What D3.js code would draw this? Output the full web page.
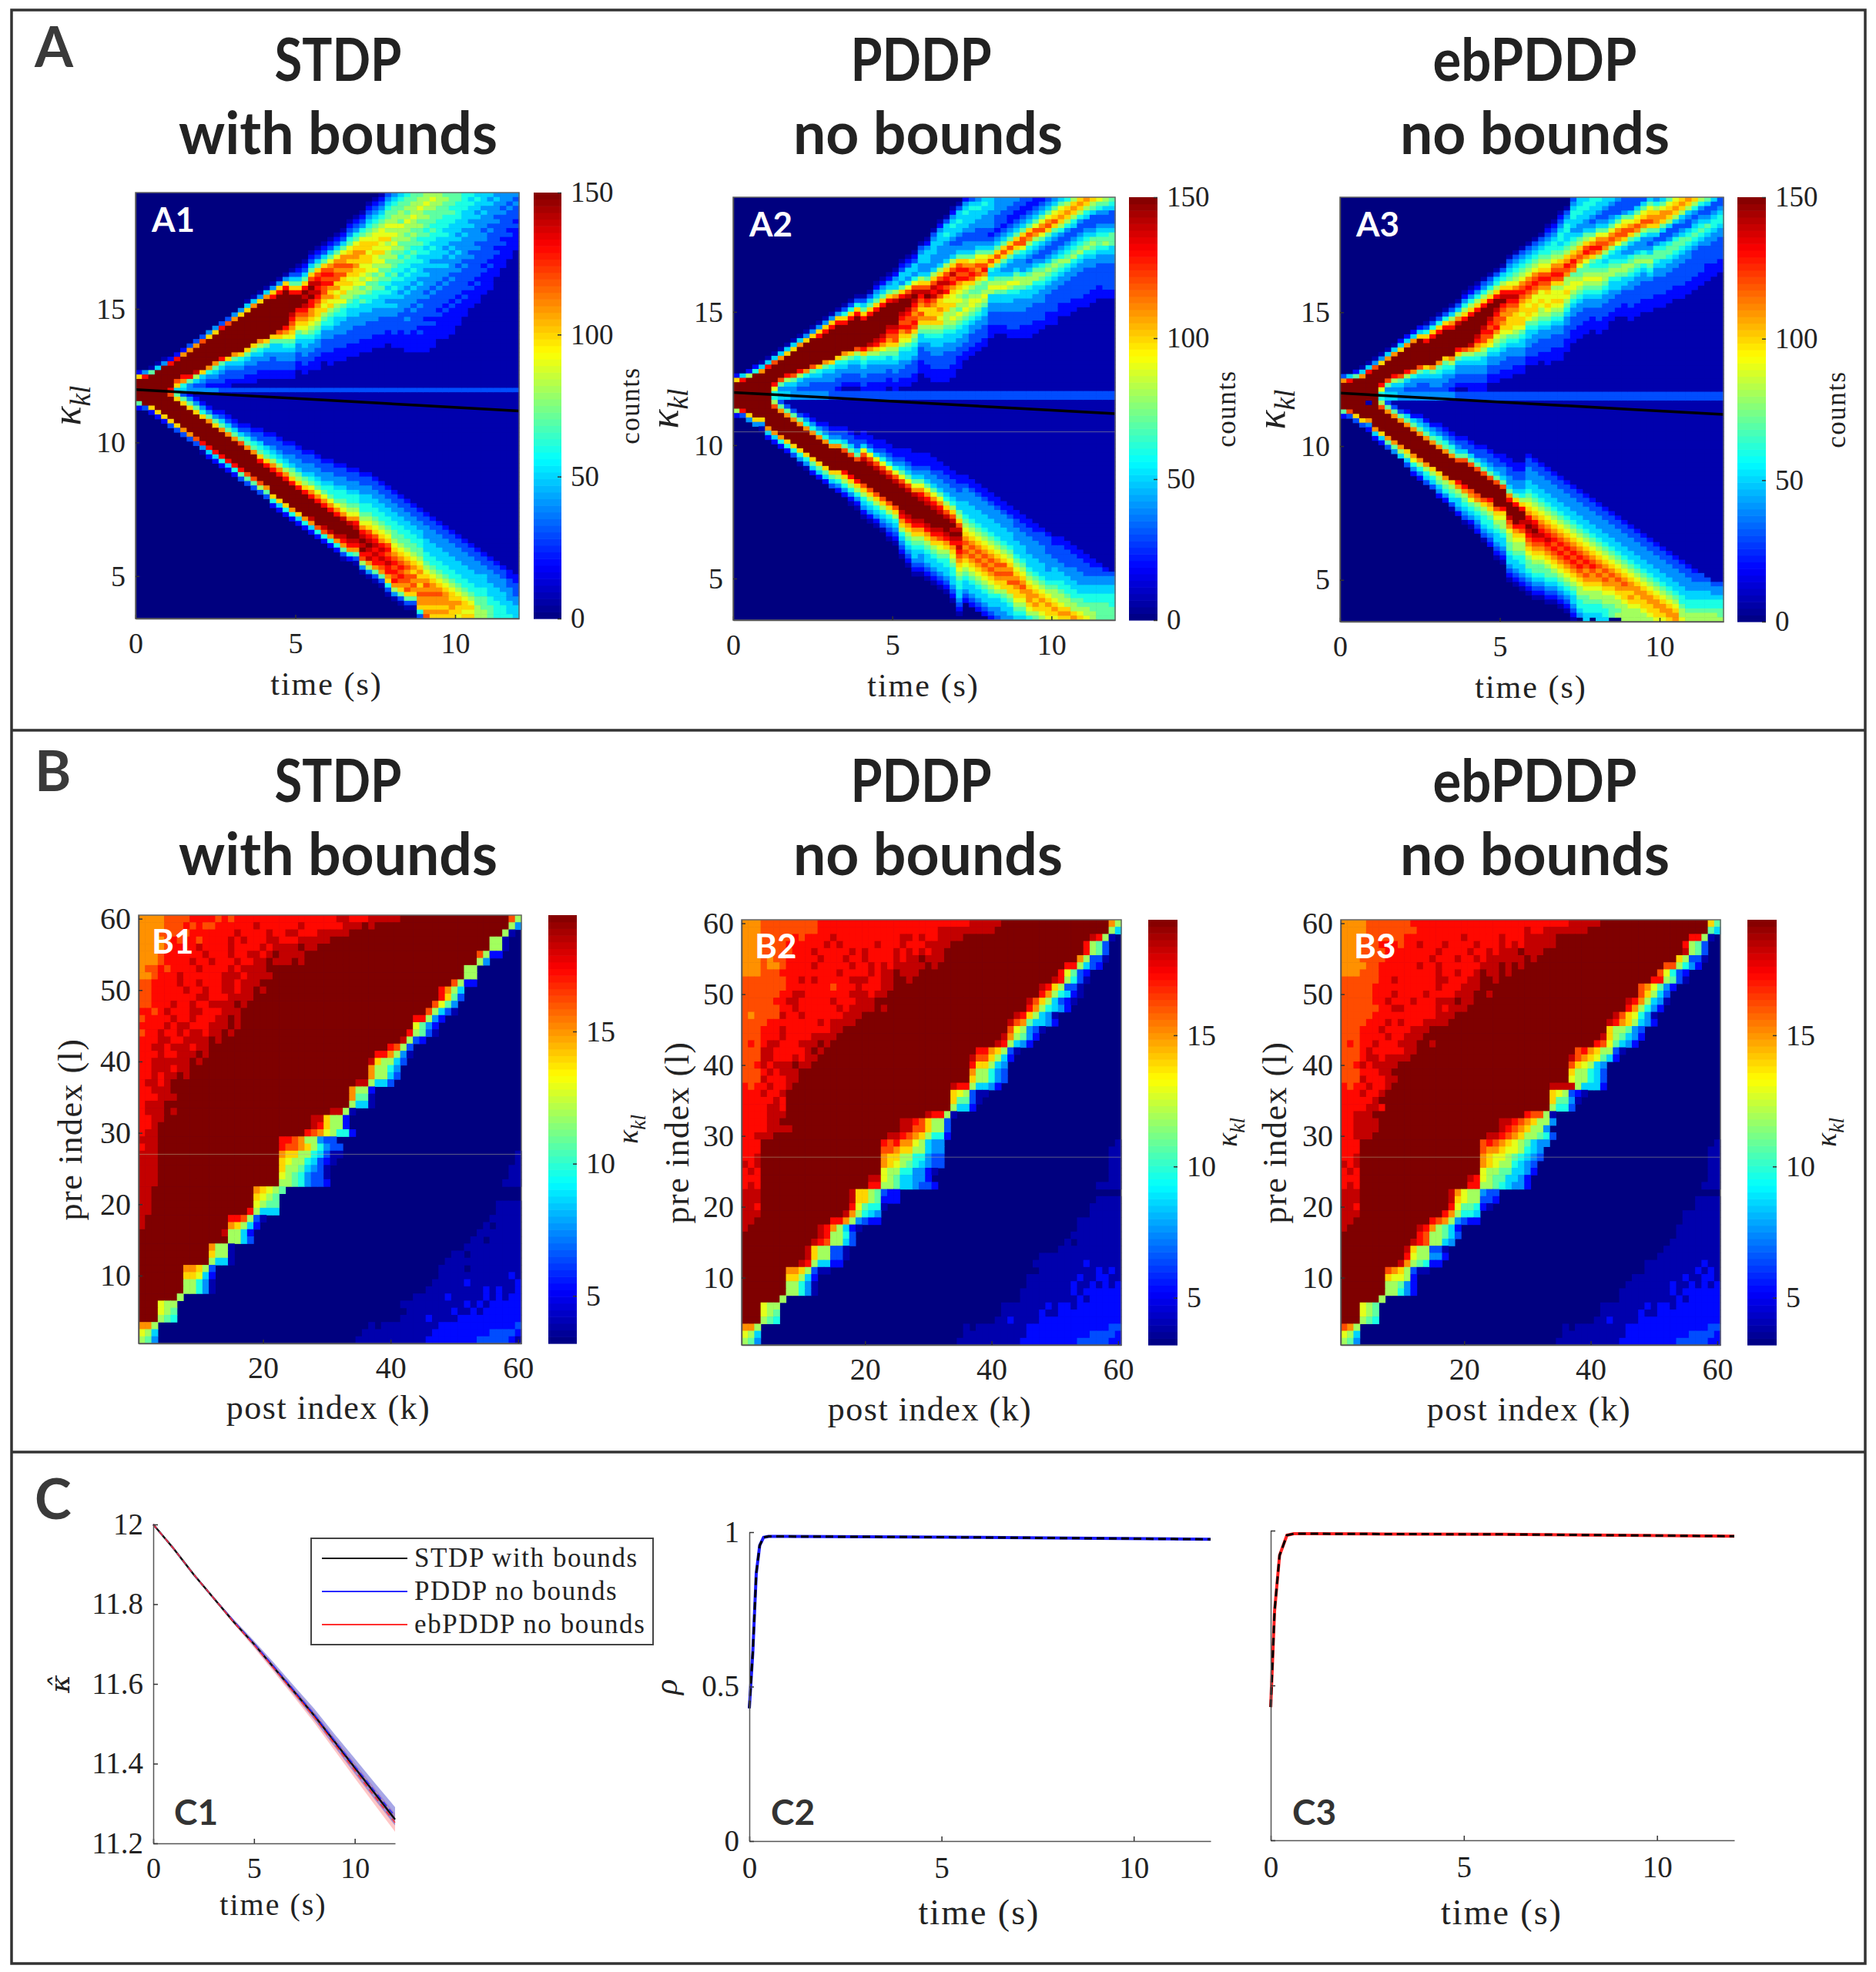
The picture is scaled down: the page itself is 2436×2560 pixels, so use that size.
<!DOCTYPE html>
<html>
<head>
<meta charset="utf-8">
<script src="https://cdnjs.cloudflare.com/ajax/libs/d3/7.8.5/d3.min.js"></script>
<style>
body { margin: 0; background: #fff; }
text { fill: #222; }
.serif { font-family: "Liberation Serif", serif; }
.sans { font-family: Lato, "Open Sans", sans-serif; font-weight: 700; }
</style>
</head>
<body>
<svg id="fig" width="2436" height="2560"></svg>
<script>
// every heat cell is one hex level, 0 = bottom of the colour bar, f = top of it
// A panels: one entry per time column: [row, upper cells, row, lower cells]
var a1Cols = [
[40,"2affff",46,"f72"],[40,"4dffff",46,"ff3"],[39,"17fffff",46,"ffa2"],[38,"15ffffff",46,"fffa2"],[37,"14fffffff",46,"ffffa2"],
[37,"2dfffffd",45,"cfffffa3"],[36,"2dffffca",45,"7afffffa3"],[35,"2bffffdb6",45,"37afffffb3"],[34,"3bfffffd74",45,"247afffffb3"],[33,"3bfffffe853",46,"247afffffc3"],
[32,"3cffffffa543",46,"1246afffffd41"],[31,"4affffffb6432",47,"1247bfffffd52"],[30,"4affffffb75432",48,"1247afffffd52"],[29,"3dffffffd754332",48,"12357bfffffd62"],[28,"3cfffffffa543322",49,"12357bfffffd52"],
[27,"4bfffffffb754332",50,"12357bfffffd62"],[26,"4affffffffa654332",51,"12357cfffffd73"],[24,"15affffffffa7543322",51,"123467bfffffc73"],[23,"15bffffffffa75443322",52,"123467bfffffc73"],[22,"14affffffffb86543322",52,"1233567adffffc83"],
[21,"15bfffffffffa75443322",53,"1233567adffffb73"],[20,"14adffffffffa755433322",53,"12334568bdfffffa62"],[19,"14adffffffffca755443322",54,"12334568bdfffffa52"],[18,"14adffffffffdb9765443322",55,"12334568bdfffffa62"],[17,"1357adffffedcba9765443322",55,"123344578adfffffb62"],
[16,"12357adfffdcba9765443322",56,"123344578adfffffa52"],[15,"12357adfefedcba98655443322",57,"123344578adfffffb62"],[13,"12357acefefddbba98765443322",57,"1233445679bdffffeb52"],[12,"12357acdededcbaa987654433222",58,"1233445679bdfffffc62"],[11,"12357acdcdccba9a87654433322",59,"1233445679bdffffec62"],
[10,"123579bcdcdbab9a8766544333222",59,"12334456679bdffffeb62"],[9,"123579bcbccab9a98765544333222",60,"12334456679bdffffeb62"],[8,"123579bbcbcaa9a897665444333222",60,"123344566789befffedb731"],[6,"1234679abacba9a9887655444333222",61,"123344566789befffedb62"],[5,"1234679abbabaa998876655443333222",61,"123344566789bdeffedb731"],
[4,"1234679aabaa9a989786755444333222",62,"1233445566789bdefefdc841"],[2,"123456789aa9aa99897876655443333222",62,"1233445566789acdefedeb841"],[1,"1234567899a9a998978776655444333222",63,"1233445566789acdededdb731"],[0,"1234567899a99a898787676555443333222",64,"1233445566789abdededcb731"],[-1,"13456778989a89887876765654544333222",65,"1233445566789acdcdeddba631"],
[0,"45677889898987877676565545443333222",66,"12334455667789abcdcdcdb841"],[0,"56778879888787676656554544433332222",67,"12334455667789abcdcdcba731"],[0,"677878988787767665655454443343332222",68,"12334455667789abcbccbca731"],[0,"778889887877676656554544434333322222",69,"12334455667789abacbcba731"],[0,"788988787767665655545444343333232222",70,"12334455667789abababcbba631"],
[0,"889878776766565554544434333323222222",71,"123344455566789abcbcbbabc"],[0,"89887776766565545444434333332322222",72,"123344455566789abbcbbaba"],[0,"888777666655555454443433332322222",73,"123344455566789abcbbaba"],[0,"787776665655454454434333323222222",74,"123344455566789abbbaba"],[0,"77767665555454544434333323222222",75,"123344455566789aabbaa"],
[0,"776666555454454434333332322222",76,"123344455566789abaa9"],[0,"66665555454444434333332 32222",77,"123344455566789aa9a"],[0,"656555454444434333332 32222",78,"123344455566789a9a"],[0,"5655454444434333333232222",79,"12334445556677888"],[0,"55545444344333332322222",80,"1233445556677788"],
[0,"5454444343333332322222",81,"123344455566777"],[0,"4544434333332322222",82,"12334445556666"],[0,"44434333332322222",83,"1233444555666"],[0,"443433332322222",84,"122334445556"],[0,"4343332322222",85,"12233344555"]
];
var a1Center = "000000554444433333333333333333333333333333333333333333333333";

var a2Cols = [
[40,"2affff",46,"ff82"],[40,"5dffff",46,"ffd3"],[39,"28fffff",46,"fffa4"],[38,"26ffffff",46,"ffffa4"],[37,"15bfffffff",47,"fffa41"],
[36,"15dfffffff",46,"ffffffb52"],[35,"15cffffd9",46,"8cfffffb52"],[34,"15bffffc74",46,"37bfffffb62"],[33,"15affffd854",46,"137bfffffa62"],[32,"15afffffc754",47,"137bfffffa63"],
[31,"15bfffffd8543",48,"137bfffffa641"],[30,"14affffffb6443",48,"1246bfffffa641"],[29,"14affffffc75433",49,"1246bfffffa752"],[28,"14adffffffa65433",50,"1246bfffffa752"],[27,"14adffffffb754433",50,"12346bfffffa752"],
[26,"14adfffffffa654433",51,"12346bfffffa753"],[25,"14adfffffffa6544332",51,"12346bfffffa8642"],[24,"136adffffffb8654332",51,"123357cffffda8642"],[23,"136adfffffffa7544332",52,"123357cffffda86421"],[22,"136adfffffffc86544332",53,"123357cffffda86421"],
[22,"1357adffffffda765443322",52,"122359cefffffca865421"],[21,"1357adffffffeb865443322",53,"122359cefffffca865421"],[19,"12457adffffffeda865443322",54,"122359cefffffca865421"],[18,"12457adffffffedb9765443322",54,"1223469cefffffca865431"],[17,"12457adfffffedcba875543322",55,"1223469cefffffca8654321"],
[16,"124558befffffedcca8765443322",55,"11223469cefffffca8654321"],[14,"1235547adfffedcdba98655443322",55,"112234579cefffffedba8654321"],[13,"12355469ceffedccdca97655433322",55,"1122234579cefffffedba87654321"],[12,"12355469cefedcbcdca87655433322",56,"1122234579befffffedba876554321"],[10,"134554458acedcbacba87554333222",56,"112223457 9bdeffffedba87654 4321"],
[9,"1245554457acefdcaaba87654433 3222",56,"11222344579bdeffffedba876554321"],[7,"13455544458acedecbaaba876554433 3222",57,"11222344579bdeffffedba876554321"],[5,"124555444458acedecaaba9a87655443 33222",58,"11223344579bdefffedca9876554321"],[4,"13556544445 8acdecda9aa8887655443333222",59,"11223344568acefffedba87665 54321"],[2,"1245655434458acecdba99a889876554433 3222",60,"11223344568acefefedba98766554321"],
[1,"1355655433457acdcdba989879876554433222",61,"112233445578acefededcba98766554321"],[0,"24565554334457ab"+"dcda"+"987889"+"87655443322",62,"1223444555678"+"9abcbcba987655432"],[0,"3565554433445 79b"+"cdca"+"87899"+"87654433322",63,"1223444555678"+"9abcbcba987655432"],[0,"456554433345 79a"+"cbca"+"877898"+"7654433322",64,"1223444555678"+"9abcbcba987655432"],[0,"5655444333457 9a"+"cdb9"+"77898"+"7554433322",65,"1223444555678"+"9abcbcba987655432"],
[0,"5554444323457aca65"+"68985"+"5443332 22",66,"1223444555678"+"9abcbcba987655432"],[0,"444433323457aca7557897554433322",67,"1223444555678 9abcbcba98655 4432"],[0,"4443332345 7aca75457897 5544333 22",68,"1223444555678 9acbcbaa87655 443"],[0,"4433223457aca7544579865544333322",69,"1223444555678 9abcbcaa87655 44"],[0,"43322345 7aca754457897 6544 4333322",70,"122334445556789abcbaa987655"],
[0,"332234 57acc96544468875544 433 3222",71,"122334445556789abcba987655"],[0,"3223457acb8654345 7886554433 33222",72,"122334444555678 9abbba9865"],[0,"2234579cb8654345788 65544333 3222",73,"122334444555678 9ababa876"],[0,"234579bc97 5433467876 544433 3322",74,"123334444555678 9abaa98"],[0,"34579bca754334578765443333222",75,"123333444455678 9abaa98"],
[0,"4579aca754334578765443333 3222",76,"1223334455567889aba9"],[0,"579aba864334568765443333 222",76,"1223333445566788 9aba"],[0,"68aba86433456786544333 33222",77,"1223333445566788aba"],[0,"8aba865334567865443333 3222",78,"1223334445566788ab"],[0,"aba8643345678654433333322",79,"1223334445567789a"],
[0,"ba865334567865443333 33222",80,"1223334455667889"],[0,"a8753334578 76544333 33222",81,"122334455667788"],[0,"976433456776544333 33222",82,"12334455667777"],[0,"87543345678654433 3333 22",83,"1234455667777"],[0,"76533345777554433333 322",84,"134455666777"]
];
var a2Center = "000000655444444333333333333333333333333333333333333333333333";

var a3Cols = [
[40,"3bffff",46,"ff72"],[40,"5dffff",46,"ffc3"],[39,"27fffff",46,"fffa3"],[38,"15bfffff",46,"ffffa3"],[37,"15dffffff",47,"fffb42"],
[36,"14cffffffff",46,"ffffffb52"],[35,"14affffd9",46,"8cfffffa52"],[34,"15bffffc74",46,"37bfffffb73"],[33,"15bffffd854",46,"137bfffffb74"],[32,"25afffffc754",47,"137bfffffb85"],
[31,"25bfffffd8543",47,"1257bfffffa853"],[30,"25bffffffb6443",48,"1257bfffffb9642"],[29,"25affffffc75433",48,"12457bfffffb8642"],[28,"136adfffffa65433",49,"12457bfffffb8653"],[27,"136adffffffb754433",50,"12457bfffffa8653"],
[26,"136adffffffb76544332",50,"123467bfffffa87542"],[25,"136adffffffa76544332",51,"123467bfffffb87642"],[24,"1358bdffffffb8654332",52,"123467bfffffa876531"],[23,"1358befffffda7544332",53,"123457cffffdb875542"],[21,"12468adffffffc86544332",53,"123357cfffffdb8765431"],
[20,"12468adffffffeb865443322",54,"123357cfffffcb9765421"],[19,"12468adfffffedba765443322",55,"123357cfffffcb8765432"],[18,"13468adffffedcca875544 3322",55,"1233457cfffffca87665431"],[17,"13468adfffedcdca965443322",56,"1233457cffffdba87665432"],[16,"13568adffedccdb98765443322",57,"1233457cfffffca9876554321"],
[15,"13568adefdcbcba98765443322",57,"12234457cffffda9887655 4321"],[13,"1345679adedcbbaaa97654433322",57,"1122334457bdfffecb98877 6554321"],[12,"13456789bdedcbaaa98765443322",58,"1122334457adffffdba9887655 4321"],[11,"13456789bcdcbaa9aa97655443322",58,"112233445 68adffedca98876655 4321"],[10,"13456789bcdcba9aa97655443322",57,"1233444556789ab"+"defedcba9877654321"],
[9,"13456789bcdcb99aa98765443 3322",58,"1233444556789ab"+"defedcba9877654321"],[8,"134567 89acdcb99a9887654433322",59,"1233444556789ab"+"cdedcba9877654321"],[6,"1234566789acdcba99a98765 4433 3222",60,"1233444556789ab"+"cdedcba9877654321"],[5,"1234566789bcdca899a987654433 3222",61,"1233444556789ab"+"cdcdcba987654321"],[3,"123456 65678abcdca899a98765443 33222",62,"1233444556789ab"+"cdcdcba987654321"],
[2,"1345665 5678abdcb889a9876544 33 3222",63,"1233444556789ab"+"cdcdcba987654321"],[0,"3456655 45678abdcb78998765 44333222",64,"1233444556789ab"+"cdcdcba9876554321"],[0,"556655445 78abcb97789876 5443 33222",65,"1233444556789ab"+"cdcdcba98876654"],[0,"5665544578acdb97789876544 33 3222",66,"1233444556789ab"+"cdcbcba98776655"],[0,"665543457 9bdca767898765 4433 222",67,"1233444556789ab"+"cdcbba9887665"],
[0,"65543457 9bcdb86678987654433 3222",68,"1233444556789ab"+"cbcba98876655"],[0,"5543345 79bcb8656788765 4433 3222",69,"1233444556789ab"+"cbcba9887665"],[0,"54 3345 79bcb8656788655443 3322",70,"1233444556789ab"+"cbba988777"],[0,"43335 79bcb96556787655433 322",71,"1233444556789ab"+"cbba98878"],[0,"333479acca754568875543 33222",72,"1233444556789ab"+"cbaa98888"],
[0,"33357 9bca754467876544 33 33222",73,"1233444556789ab"+"baba9888"],[0,"33579acb864457876544 33 33222",74,"1233444556789ab"+"baa9888"],[0,"3579acb864446786544 33 33222",75,"1233444556789ab"+"baa988"],[0,"579abca7543457876 54 33 33222",76,"1233444556789ab"+"baa98"],[0,"468abba75346776544 33 33222",77,"1233444556789ab"+"baa9"],
[0,"579bba7533567755443 33 3222",78,"1233444556789ab"+"ba9"],[0,"79aba8533467765443 33 3222",79,"1233444556789ab"+"ba"],[0,"9aba85334677 65443 33 3222",80,"1233444556789ab"+"b"],[0,"aba85434577654433 3 33222",81,"123344455667889"],[0,"ba854335676544 33 33 3222",82,"12334445566788"],
[0,"a8643456 7654333 33 3222",83,"1233445566788"],[0,"864345676543 33 33 3222",84,"133445566788"],[0,"753345765 44 33 33 2222",85,"13445566788"],[0,"53345665 44 33 33 3222",86,"1344566788"],[0,"3345665 44 33 33 3222",86,"1344566778"]
];
var a3Center = "000000655444444444333333333333333333333333333333333333333333";

// B panels: one entry per pre index from 60 down to 1:
// [cells from the left edge, first post index of the diagonal block, block cells, cells up to the right edge]
var b1Rows = [
["bbbbccccddddcdcddddddddddddddddeedddeeeee",59,"c8",""],["bbbbcccdcdccddddddeddddddeddddddeeefe",59,"84",""],["bbbcccccdddddddeddddeddeedddeeeee",58,"81",""],["bbbbcdcddcddddededddeedddeeeee",56,"881",""],["bbbbcddddeddddeddddedeeeefee",56,"881",""],
["bbbcddddddedddeddeedefeeeef",54,"c822",""],["bbbcddddeddedddeddeefeeefe",54,"84",""],["bccdcddddeddddedeeeeff",52,"88",""],["bbcdddeddddddeeedeeeef",52,"88",""],["ccddddeddedddeedeeef",50,"c822",""],
["ccdddddeddeddeedeefe",48,"db85",""],["ccdddddddeedddeeeef",48,"da73",""],["ccdddeddeddeeeefef",47,"c974",""],["ddcdedddeedddeeef",46,"c8531",""],["cddddeddedddeefe",44,"dd842",""],
["ddddedeedddeeefe",44,"9742",""],["cddeddedeedeefe",43,"d8731",""],["dddeeddeeeefe",42,"e832",""],["ddeedeeedeef",40,"dc83",""],["dddeddeeefe",38,"ddb841",""],
["ddeeeeeefe",37,"ea8853",""],["ddeeedeef",37,"b8864",""],["ddedeefef",37,"b8853",""],["deedeff",35,"ee8553",""],["ddeeef",34,"b882",""],
["dddeeef",34,"b771",""],["deeef",34,"8551",""],["deeefe",31,"ee81",""],["ddee",28,"eea882",""],["ddef",28,"eda882",""],
["deef",27,"dcb98662",""],["eeef",23,"ddcb88433",""],["dee",23,"dccba86433",""],["eee",23,"baa8865311","1"],["eee",23,"a98865321","1"],
["eee",23,"a8875431","11"],["eee",23,"98764331","11"],["eee",23,"88764332","111"],["eef",19,"ba987",""],["eef",19,"a987",""],
["ee",19,"9877","1111"],["eef",18,"d8555","1111"],["ef",15,"ddc831","11111"],["ef",15,"ba852","101111"],["f",14,"e8852","1111111"],
["",15,"8853","11011111"],["",12,"b881","111111111"],["",12,"a881","11011111111"],["",12,"8551","111111111111"],["",8,"bba83","1111011111111"],
["",8,"aa952","1111111111121"],["",8,"88641","11111211111112"],["",8,"88641","111111111212112"],["",7,"8","11111211111212122"],["",4,"988","1111111111212122222"],
["",4,"987","111111121121222222"],["",4,"876","1111211112222222222"],["bb",3,"8","101111111112222222222223"],["9",2,"85","1111111111122222222233332"],["8",2,"74","11111111111222222223333321"]
];

var b2Rows = [
["bbbcccccccccddddddddddddddddddddddddeeeee",59,"b8",""],["bbbcccccccccdddddddddddddddddddeeeeeeeee",59,"85",""],["bbbcccccdcddddeddddddddddeededdeeee",56,"ed81",""],["bbbccccddddddededddddedddedddeeee",55,"d873",""],["bbbcccccdddedddddededdddedededee",55,"d873",""],
["bbbcbccdddddedddeddeddddedeefeee",54,"b8331",""],["bbbcbbcddddedddddeddededeeeeefe",52,"dd8532",""],["bbbcccdddddddddeddddedeefeeef",51,"d9732",""],["cccccccddededddddeeeddeeffe",50,"ed8631",""],["cccccccdddddddcdddedddeef",48,"eda8331",""],
["ccccccddeedddddddeeedeeff",48,"db86521",""],["cccccddeedddddedddeeef",46,"eca85321",""],["ccccccddeddddddedeeeefe",46,"db86542",""],["cbcccceddeddddddeeef",44,"eda8541",""],["ccccddddddddedeeeef",43,"ecb75542",""],
["cccdddedddddddeef",43,"c98431",""],["cccdddeddddeeeef",42,"eb8742",""],["cdcdeedddeeefe",41,"ed8542",""],["ccceedddddefef",38,"ddba831",""],["ccceedddedeef",37,"ecca852",""],
["ccdedeeefeef",37,"daa854",""],["cccdedeeef",37,"b88643",""],["cccedddeef",37,"a88643",""],["dcddeddef",34,"edd85542",""],["dddedde",34,"a98311",""],
["ddddded",34,"a7731",""],["ddddeedf",34,"8552",""],["ddddeeef",30,"edd81",""],["ddddee",26,"eedca883",""],["ddddeeeef",26,"eecca883",""],
["ddeeef",24,"eedcba8662",""],["ddd",23,"dcdbb98544","1"],["ddd",23,"ccbaa88544","11"],["dde",23,"baa8866433","11"],["ede",23,"ba98765433","11"],
["ded",23,"988664421","11"],["ddd",21,"ee98755442","11"],["ded",21,"dd887554332","1111"],["eee",18,"eaa87322",""],["eee",18,"eaa87222","1111"],
["eed",18,"d97661","11111"],["eeef",17,"eb8654","11111"],["ee",15,"ddb84322","1111111"],["ef",13,"edb8521","1111111"],["",13,"ed8863","11111111"],
["",12,"edc8853","101111111"],["",11,"ea88331","1111111111"],["",11,"ea88331","1111111111111"],["",10,"ed85522","11111111211111"],["",8,"bba8311","1111111112121"],
["",8,"aa852","111111112112211"],["",8,"88641","111111121121212"],["",8,"88641","1111111121222222"],["",7,"8","1111111112122222"],["",4,"988","1111111212212222222"],
["",4,"987","1111112112222222222"],["",4,"876","11211112222222222222"],["bb",3,"8","1011111111222222222222233"],["9",2,"85","1111111111222222222233332"],["8",2,"74","11111111112222222223333322"]
];

var b3Rows = [
["bbbbcccccccdddddddddddddddddddddddddeeeee",59,"a7",""],["bbbbccccccccdddddddddddddddddeddeeeeeee",59,"75",""],["bbbcccccccdddddddddedddddedddeeeee",56,"dd81",""],["bbbcccdddcddedddeddddedddededeeeee",55,"d873",""],["bbbccccddddddddeddddeddedeeefeee",55,"e873",""],
["bbbccccdddddddedddeddedeeeeeefe",54,"a8331",""],["bbbbccddddddeddeddddddeeefefe",52,"cc8642",""],["bbbcccdddddddddeddeddefeefe",51,"c9632",""],["ccccccddeddddddeedddeeffe",50,"dd8731",""],["cccccddddddddddedddeeef",48,"cb9742",""],
["cccccdddeddddeddddeeeffe",48,"ca853",""],["cccccddedddedddeeefeef",46,"edb8541",""],["ccccccddeedddddedeeef",46,"db8642",""],["cccccddddddddddeeef",44,"eca9641",""],["ccccdddededddeeeeff",43,"edba8542",""],
["cccdddeddddeeef",43,"a88743",""],["cccddddeddeeef",42,"ea87542",""],["cdcddedddeeeffe",41,"dc97542",""],["cccdedddddeef",38,"cdba8831",""],["cccdeedeeeef",37,"ecba9752",""],
["ccdedeeeef",37,"ca9854",""],["cccdddeef",37,"a88653",""],["cccedddeef",37,"988653",""],["dcddeddef",34,"eeee85552",""],["dddedde",34,"a98321",""],
["dddddef",34,"a7741",""],["ddddeedf",34,"8663",""],["ddeeef",30,"dcc81",""],["ddeeee",26,"eedcba884",""],["ddeeeef",26,"edcba884",""],
["ddeeef",24,"eedcba88763",""],["ddd",23,"cdcba987544","1"],["ddd",23,"cbba998654","11"],["dde",23,"ba99876543","11"],["ede",23,"ba9886543","11"],
["ded",23,"988775542","11"],["ddd",21,"ed98775542","11"],["ded",21,"dd88765442","111"],["eee",18,"eb988433",""],["eee",18,"ea988332","1111"],
["eed",18,"d977621","1111"],["eeef",17,"db8665","111111"],["ee",15,"dcb84322","111111"],["ef",13,"edb8752","1111111"],["",13,"dc88753","1111111"],
["",12,"edc8854","11111111"],["",11,"ea88331","111111111"],["",11,"d988442","1111111111"],["",10,"eb87622","111111111211"],["",8,"cba8311","111111112121"],
["",8,"a9982","11111111211221"],["",8,"88742","111111121121212"],["",8,"88642","1111111121222222"],["",7,"8","1111111112122222"],["",4,"987","1111111212212222222"],
["",4,"987","1111112112222222222"],["",4,"876","11211112222222222222"],["cb",3,"8","1011111111222222222222233"],["9",2,"85","1111111111222222222233332"],["8",2,"74","11111111112222222223333322"]
];

// C panels
var kTimes = [0, 0.5, 1, 2, 3, 4, 5, 6, 7, 8, 9, 10, 11, 12];
var kStdp = [12, 11.97, 11.94, 11.875, 11.815, 11.755, 11.7, 11.64, 11.58, 11.52, 11.455, 11.39, 11.325, 11.26];
var kPddp = [12, 11.97, 11.94, 11.875, 11.815, 11.757, 11.701, 11.643, 11.583, 11.523, 11.458, 11.394, 11.33, 11.268];
var kEb = [12, 11.97, 11.94, 11.875, 11.815, 11.755, 11.698, 11.638, 11.577, 11.516, 11.449, 11.383, 11.317, 11.252];
var kSpread = [0, 0, 0.001, 0.002, 0.003, 0.005, 0.007, 0.009, 0.011, 0.014, 0.016, 0.019, 0.021, 0.023];
var rhoTimes = [0, 0.09, 0.18, 0.27, 0.37, 0.5, 1, 3, 6, 9, 12];
var rhoPddp = [0.43, 0.61, 0.866, 0.957, 0.983, 0.986, 0.986, 0.985, 0.983, 0.98, 0.977];
var rhoTimes3 = [0, 0.1, 0.23, 0.42, 0.6, 1, 3, 6, 9, 12];
var rhoEb = [0.43, 0.74, 0.92, 0.985, 0.99, 0.99, 0.989, 0.988, 0.985, 0.982];
// black mean line over the A panels
var meanTimes = [0, 3, 6, 9, 12];
var meanKappa = [11.98, 11.78, 11.58, 11.38, 11.18];

var legendNames = ["STDP with bounds", "PDDP no bounds", "ebPDDP no bounds"];
var legendColors = ["#111111", "#2a2aff", "#ff3030"];

var jet = d3.scaleLinear()
    .domain([0, 0.125, 0.375, 0.625, 0.875, 1])
    .range(["#00007f", "#0000ff", "#00ffff", "#ffff00", "#ff0000", "#7f0000"])
    .clamp(true);

var svg = d3.select("#fig");

function clean(s) { return s.replace(/\s/g, ""); }

// text helper, width is optional
function label(x, y, str, size, cls, opts) {
    opts = opts || {};
    var t = svg.append("text").attr("class", cls).attr("x", x).attr("y", y)
        .attr("font-size", size)
        .attr("text-anchor", opts.anchor || "middle");
    if (opts.rotate) t.attr("transform", "rotate(-90," + x + "," + y + ")");
    if (opts.color) t.style("fill", opts.color);
    if (opts.italic) t.attr("font-style", "italic");
    if (opts.spacing) t.attr("letter-spacing", opts.spacing);
    if (opts.width) t.attr("textLength", opts.width).attr("lengthAdjust", "spacingAndGlyphs");
    if (opts.family) t.style("font-family", opts.family);
    t.text(str);
    return t;
}

function kappaLabel(x, y, size, rotate) {
    var t = svg.append("text").attr("class", "serif").attr("x", x).attr("y", y)
        .attr("font-size", size).attr("text-anchor", "middle").attr("font-style", "italic");
    if (rotate) t.attr("transform", "rotate(-90," + x + "," + y + ")");
    t.append("tspan").text("\u03ba");
    t.append("tspan").attr("dy", size * 0.25).attr("font-size", size * 0.72).text("kl");
}

function styleAxis(g, size) {
    g.selectAll("path").attr("stroke", "#555").attr("stroke-width", 1.5);
    g.selectAll("line").attr("stroke", "#333").attr("stroke-width", 1.5);
    g.selectAll("text").attr("class", "serif").attr("font-size", size).style("fill", "#222")
        .attr("font-family", "Liberation Serif");
}

function levelColor(level) {
    return jet(level == 1 ? 0.045 : level / 15);
}

function drawCells(g, cells, x, y) {
    g.selectAll("rect.cell").data(cells).join("rect").attr("class", "cell")
        .attr("x", d => x(d.col)).attr("y", d => y(d.row))
        .attr("width", x.bandwidth() + 0.6).attr("height", y.bandwidth() + 0.6)
        .attr("fill", d => levelColor(d.level));
}

function colorBar(p, domain, ticks, size) {
    var levels = d3.range(0, 64);
    var y = d3.scaleBand().domain(levels).range([p.y1, p.y0]);
    svg.append("g").selectAll("rect").data(levels).join("rect")
        .attr("x", p.bx0).attr("width", p.bx1 - p.bx0)
        .attr("y", d => y(d)).attr("height", y.bandwidth() + 0.6)
        .attr("fill", d => jet((d + 0.5) / 64));
    var s = d3.scaleLinear().domain(domain).range([p.y1, p.y0]);
    var ax = svg.append("g").attr("transform", "translate(" + p.bx1 + ",0)")
        .call(d3.axisRight(s).tickValues(ticks).tickSizeInner(-5).tickSizeOuter(0).tickPadding(12));
    styleAxis(ax, size);
    ax.select("path").remove();
}

function matrixFromColumns(cols, center, centerRows) {
    var cells = [];
    cols.forEach(function (e, c) {
        var column = d3.range(96).map(() => 0);
        var up = clean(e[1]), low = clean(e[3]);
        for (var r = e[0] + up.length; r < e[2]; r++) if (r >= 0 && r < 96) column[r] = 1;
        up.split("").forEach((ch, i) => { var r = e[0] + i; if (r >= 0 && r < 96) column[r] = parseInt(ch, 16); });
        low.split("").forEach((ch, i) => { var r = e[2] + i; if (r >= 0 && r < 96) column[r] = parseInt(ch, 16); });
        centerRows.forEach(r => { column[r] = Math.max(column[r], parseInt(center[c], 16)); });
        column.forEach((level, r) => { if (level > 0) cells.push({ col: c, row: r, level: level }); });
    });
    return cells;
}

function matrixFromRows(rows) {
    var cells = [];
    rows.forEach(function (e, idx) {
        var pre = 60 - idx;
        var line = d3.range(60).map(() => 0);
        var left = clean(e[0]), diag = clean(e[2]), right = clean(e[3]);
        for (var k = 0; k < e[1] - 1; k++) line[k] = 15;
        left.split("").forEach((ch, i) => { line[i] = parseInt(ch, 16); });
        diag.split("").forEach((ch, i) => { line[e[1] - 1 + i] = parseInt(ch, 16); });
        right.split("").forEach((ch, i) => { line[60 - right.length + i] = parseInt(ch, 16); });
        line.forEach((level, k) => { if (level > 0) cells.push({ col: k + 1, row: pre, level: level }); });
    });
    return cells;
}

function panelA(p, cols, center, centerRows) {
    var x = d3.scaleBand().domain(d3.range(60)).range([p.x0, p.x1]);
    var y = d3.scaleBand().domain(d3.range(96)).range([p.y0, p.y1]);
    var tScale = d3.scaleLinear().domain([0, 12]).range([p.x0, p.x1]);
    var kScale = d3.scaleLinear().domain([p.kBottom, p.kTop]).range([p.y1, p.y0]);
    svg.append("rect").attr("x", p.x0).attr("y", p.y0).attr("width", p.x1 - p.x0).attr("height", p.y1 - p.y0).attr("fill", jet(0));
    drawCells(svg.append("g"), matrixFromColumns(cols, center, centerRows), x, y);
    var line = d3.line().x((d, i) => tScale(meanTimes[i])).y(d => kScale(d));
    svg.append("path").datum(meanKappa).attr("d", line).attr("fill", "none").attr("stroke", "#000").attr("stroke-width", 3.5);
    if (p.streak) svg.append("line").attr("x1", p.x0).attr("x2", p.x1).attr("y1", kScale(p.streak)).attr("y2", kScale(p.streak)).attr("stroke", "#b8b890").attr("stroke-opacity", 0.5);
    svg.append("rect").attr("x", p.x0).attr("y", p.y0).attr("width", p.x1 - p.x0).attr("height", p.y1 - p.y0).attr("fill", "none").attr("stroke", "#666").attr("stroke-width", 1.5);
    var ax = svg.append("g").attr("transform", "translate(0," + p.y1 + ")")
        .call(d3.axisBottom(tScale).tickValues([0, 5, 10]).tickSizeInner(-5).tickSizeOuter(0).tickPadding(18));
    styleAxis(ax, 38);
    var ay = svg.append("g").attr("transform", "translate(" + p.x0 + ",0)")
        .call(d3.axisLeft(kScale).tickValues([5, 10, 15]).tickSizeInner(-5).tickSizeOuter(0).tickPadding(13));
    styleAxis(ay, 38);
    colorBar(p, [0, 150], [0, 50, 100, 150], 37);
    label((p.x0 + p.x1) / 2 - 1, p.y1 + 99, "time (s)", 42, "serif", { spacing: 2 });
    label(p.countsX, (p.y0 + p.y1) / 2, "counts", 35, "serif", { rotate: true, spacing: 1.5 });
    kappaLabel(p.kappaX, (p.y0 + p.y1) / 2, 52, true);
    label(p.x0 + 21, p.y0 + 51, p.name, 44, "sans", { anchor: "start", color: "#fff" });
}

function panelB(p, rows) {
    var x = d3.scaleBand().domain(d3.range(1, 61)).range([p.x0, p.x1]);
    var y = d3.scaleBand().domain(d3.range(60, 0, -1)).range([p.y0, p.y1]);
    var post = d3.scaleLinear().domain([0.5, 60.5]).range([p.x0, p.x1]);
    var pre = d3.scaleLinear().domain([0.5, 60.5]).range([p.y1, p.y0]);
    svg.append("rect").attr("x", p.x0).attr("y", p.y0).attr("width", p.x1 - p.x0).attr("height", p.y1 - p.y0).attr("fill", jet(0));
    drawCells(svg.append("g"), matrixFromRows(rows), x, y);
    svg.append("line").attr("x1", p.x0).attr("x2", p.x1).attr("y1", pre(27)).attr("y2", pre(27)).attr("stroke", "#b8b890").attr("stroke-opacity", 0.5);
    svg.append("rect").attr("x", p.x0).attr("y", p.y0).attr("width", p.x1 - p.x0).attr("height", p.y1 - p.y0).attr("fill", "none").attr("stroke", "#666").attr("stroke-width", 1.5);
    var ax = svg.append("g").attr("transform", "translate(0," + p.y1 + ")")
        .call(d3.axisBottom(post).tickValues([20, 40, 60]).tickSizeInner(-5).tickSizeOuter(0).tickPadding(17));
    styleAxis(ax, 40);
    var ay = svg.append("g").attr("transform", "translate(" + p.x0 + ",0)")
        .call(d3.axisLeft(pre).tickValues([10, 20, 30, 40, 50, 60]).tickSizeInner(-5).tickSizeOuter(0).tickPadding(10));
    styleAxis(ay, 40);
    colorBar(p, [3.2, 19.4], [5, 10, 15], 38);
    label((p.x0 + p.x1) / 2 - 2, p.y1 + 98, "post index (k)", 44, "serif", { spacing: 1.5 });
    label(p.preX, (p.y0 + p.y1) / 2, "pre index (l)", 44, "serif", { rotate: true, spacing: 1.5 });
    kappaLabel(p.kappaX, (p.y0 + p.y1) / 2, 38, true);
    label(p.x0 + 17, p.y0 + 50, p.name, 44, "sans", { anchor: "start", color: "#fff" });
}

// frame round the three rows
svg.append("rect").attr("x", 15).attr("y", 13).attr("width", 2407).attr("height", 2536).attr("fill", "none").attr("stroke", "#333").attr("stroke-width", 3.5);
[948, 1885].forEach(function (yy) {
    svg.append("line").attr("x1", 15).attr("x2", 2422).attr("y1", yy).attr("y2", yy).attr("stroke", "#333").attr("stroke-width", 3.5);
});

// headings
[["A", 45, 87], ["B", 45, 1027], ["C", 45, 1972]].forEach(function (d) {
    label(d[1], d[2], d[0], 72, "sans", { anchor: "start", color: "#3a3a3a" });
});
[[105, 200], [1041, 1136]].forEach(function (yy) {
    label(439, yy[0], "STDP", 76, "sans", { width: 165 });
    label(439, yy[1], "with bounds", 76, "sans", { width: 414 });
    label(1196, yy[0], "PDDP", 76, "sans", { width: 183 });
    label(1205, yy[1], "no bounds", 76, "sans", { width: 350 });
    label(1993, yy[0], "ebPDDP", 76, "sans", { width: 265 });
    label(1993, yy[1], "no bounds", 76, "sans", { width: 350 });
});

panelA({ name: "A1", x0: 176, x1: 674, y0: 250, y1: 803, bx0: 693, bx1: 729, kBottom: 3.41, kTop: 19.35, countsX: 830, kappaX: 104 }, a1Cols, a1Center, [44]);
panelA({ name: "A2", x0: 952, x1: 1448, y0: 256, y1: 805, bx0: 1466, bx1: 1503, kBottom: 3.44, kTop: 19.3, countsX: 1604, kappaX: 880, streak: 10.5 }, a2Cols, a2Center, [44, 45]);
panelA({ name: "A3", x0: 1740, x1: 2238, y0: 256, y1: 807, bx0: 2256, bx1: 2293, kBottom: 3.44, kTop: 19.3, countsX: 2396, kappaX: 1668 }, a3Cols, a3Center, [44, 45]);

panelB({ name: "B1", x0: 180, x1: 677, y0: 1188, y1: 1744, bx0: 712, bx1: 749, preX: 106, kappaX: 828 }, b1Rows);
panelB({ name: "B2", x0: 963, x1: 1456, y0: 1194, y1: 1746, bx0: 1491, bx1: 1529, preX: 894, kappaX: 1606 }, b2Rows);
panelB({ name: "B3", x0: 1741, x1: 2234, y0: 1194, y1: 1746, bx0: 2269, bx1: 2307, preX: 1670, kappaX: 2384 }, b3Rows);

// C1
(function () {
    var x = d3.scaleLinear().domain([0, 12]).range([199, 513]);
    var y = d3.scaleLinear().domain([11.2, 12]).range([2393, 1979]);
    var area = d3.area().x((d, i) => x(kTimes[i])).y0((d, i) => y(d - kSpread[i])).y1((d, i) => y(d + kSpread[i]));
    svg.append("path").datum(kEb).attr("d", area).attr("fill", "#ff7070").attr("opacity", 0.4);
    svg.append("path").datum(kPddp).attr("d", area).attr("fill", "#5050d0").attr("opacity", 0.5);
    var line = d3.line().x((d, i) => x(kTimes[i])).y(d => y(d));
    [kStdp, kPddp, kEb].forEach(function (s, i) {
        svg.append("path").datum(s).attr("d", line).attr("fill", "none").attr("stroke", legendColors[i]).attr("stroke-width", i == 0 ? 2.5 : 1.5)
            .attr("stroke-dasharray", i == 0 ? null : "7 5");
    });
    var ax = svg.append("g").attr("transform", "translate(0,2393)")
        .call(d3.axisBottom(x).tickValues([0, 5, 10]).tickSizeInner(-6).tickSizeOuter(0).tickPadding(18));
    styleAxis(ax, 38);
    var ay = svg.append("g").attr("transform", "translate(199,0)")
        .call(d3.axisLeft(y).tickValues([11.2, 11.4, 11.6, 11.8, 12]).tickFormat(d => d == 12 ? "12" : d3.format(".1f")(d)).tickSizeInner(-6).tickSizeOuter(0).tickPadding(13));
    styleAxis(ay, 39);
    label(355, 2486, "time (s)", 40, "serif", { spacing: 2 });
    label(90, 2186, "\u03ba\u0302", 36, "serif", { rotate: true, italic: true, family: "DejaVu Serif" });
    label(226, 2369, "C1", 46, "sans", { anchor: "start", color: "#333" });

    // legend box
    svg.append("rect").attr("x", 404).attr("y", 1997).attr("width", 444).attr("height", 138).attr("fill", "#fff").attr("stroke", "#444").attr("stroke-width", 2);
    var rowY = d3.scalePoint().domain(legendNames).range([2023, 2109]);
    legendNames.forEach(function (n, i) {
        svg.append("line").attr("x1", 418).attr("x2", 529).attr("y1", rowY(n)).attr("y2", rowY(n)).attr("stroke", legendColors[i]).attr("stroke-width", 2);
        label(538, rowY(n) + 11, n, 35, "serif", { anchor: "start", spacing: 1.6 });
    });
})();

function rhoPanel(p, times, values, color, name, labelled) {
    var x = d3.scaleLinear().domain([0, 12]).range([p.x0, p.x1]);
    var y = d3.scaleLinear().domain([0, 1]).range([p.y1, p.y0]);
    var line = d3.line().x((d, i) => x(times[i])).y(d => y(d));
    svg.append("path").datum(values).attr("d", line).attr("fill", "none").attr("stroke", color).attr("stroke-width", 4);
    svg.append("path").datum(values).attr("d", line).attr("fill", "none").attr("stroke", "#000").attr("stroke-width", 3).attr("stroke-dasharray", "10 6");
    var ax = svg.append("g").attr("transform", "translate(0," + p.y1 + ")")
        .call(d3.axisBottom(x).tickValues([0, 5, 10]).tickSizeInner(-6).tickSizeOuter(0).tickPadding(20));
    styleAxis(ax, 39);
    var ay = svg.append("g").attr("transform", "translate(" + p.x0 + ",0)")
        .call(d3.axisLeft(y).tickValues([0, 0.5, 1]).tickFormat(labelled ? (d => d) : "").tickSizeInner(-6).tickSizeOuter(0).tickPadding(13));
    styleAxis(ay, 39);
    label((p.x0 + p.x1) / 2 - 1, 2498, "time (s)", 46, "serif", { spacing: 2 });
    label(p.x0 + 28, 2369, name, 46, "sans", { anchor: "start", color: "#333" });
    if (labelled) label(p.x0 - 94, p.y1 - 200, "\u03c1", 42, "serif", { rotate: true, italic: true });
}
rhoPanel({ x0: 973, x1: 1572, y0: 1989, y1: 2390 }, rhoTimes, rhoPddp, "#1a1aff", "C2", true);
rhoPanel({ x0: 1650, x1: 2252, y0: 1987, y1: 2389 }, rhoTimes3, rhoEb, "#ff2020", "C3", false);
</script>
</body>
</html>
